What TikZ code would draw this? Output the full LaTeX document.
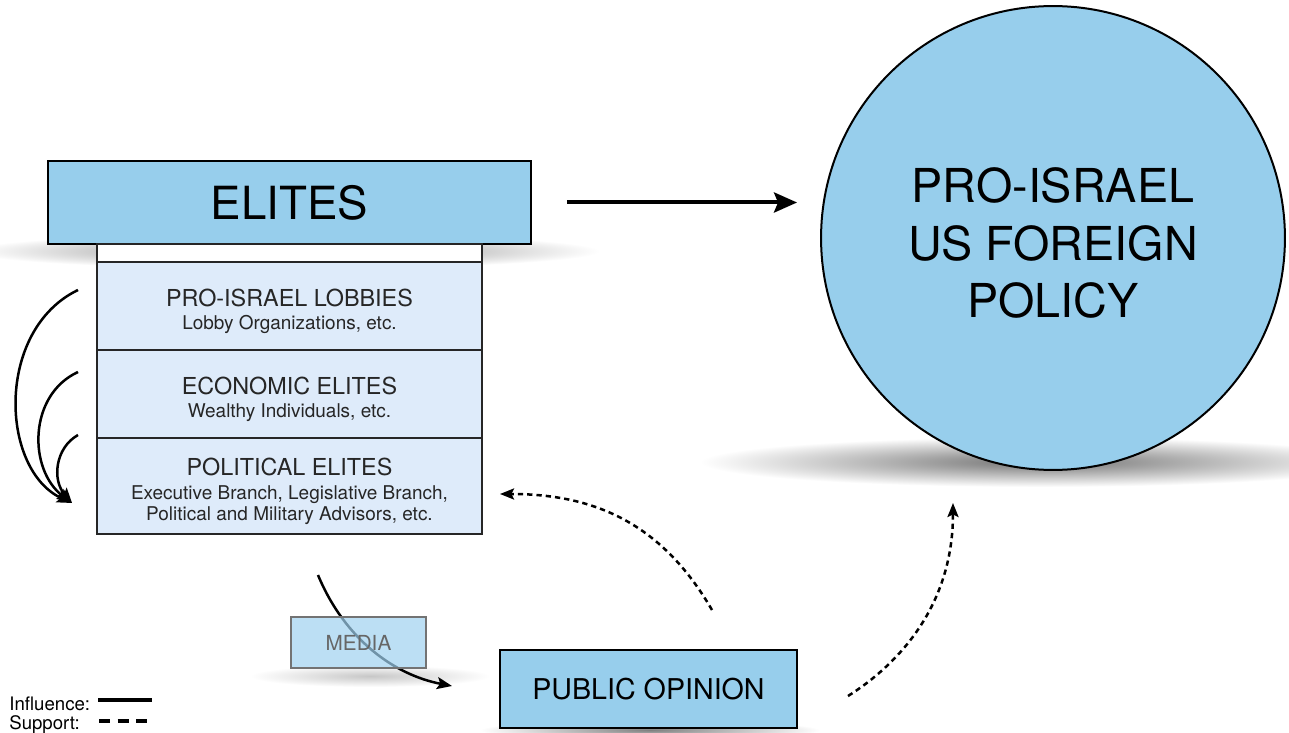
\documentclass[tikz,border=0pt]{standalone}
\usepackage{fontspec}
\setmainfont{TeX Gyre Heros}
\usetikzlibrary{arrows.meta,calc}

\definecolor{eliteblue}{RGB}{151,206,236}
\definecolor{layerblue}{RGB}{222,235,250}
\definecolor{mediablue}{RGB}{160,210,240}

\newcommand{\layertitle}{\fontsize{13.3}{16}\selectfont}
\newcommand{\layersub}{\fontsize{10.8}{12.4}\selectfont}

\tikzset{
	bluebox/.style={draw=black, line width=0.4mm, fill=eliteblue, inner sep=0pt},
	layerbox/.style={draw=black!85, line width=0.4mm, fill=layerblue, minimum width=7.7cm, inner sep=0pt},
	layertext/.style={align=center, text=black!85, inner sep=0pt},
	influence/.style={line width=0.5mm, -{Stealth[length=3mm,width=2.4mm,inset=0.6mm]}},
	support/.style={line width=0.5mm, dash pattern=on 3pt off 2.3pt, -{Stealth[length=2.8mm,width=2.2mm,inset=0.5mm]}},
	haze/.style={inner color=black!50, outer color=white}
}

\begin{document}
\begin{tikzpicture}[x=0.02cm, y=-0.02cm]
		%%%%% START %%%%%
		
		\fill[white] (0,0) rectangle (1289,733);
		\useasboundingbox (0,0) rectangle (1289,733);
		
		% soft shadows
		\shade[haze] (285,251) ellipse [x radius=6.3cm, y radius=0.36cm];
		\shade[haze, inner color=black!55] (1040,462) ellipse [x radius=6.8cm, y radius=0.5cm];
		\shade[haze] (650,730) ellipse [x radius=3.4cm, y radius=0.2cm];
		\shade[haze, inner color=black!22] (370,676) ellipse [x radius=2.4cm, y radius=0.22cm];
		
		% the elite stack
		\node[bluebox, minimum width=9.66cm, minimum height=1.66cm, font=\fontsize{26}{31}\selectfont] (elites) at (289.5,202.5) {ELITES};
		\node[layerbox, fill=white, minimum height=0.36cm] (stem) at (289.5,253) {};
		\node[layerbox, minimum height=1.76cm] (lobbies) at (289.5,306) {};
		\node[layerbox, minimum height=1.76cm] (economic) at (289.5,394) {};
		\node[layerbox, minimum height=1.92cm] (political) at (289.5,486) {};
		
		\node[layertext] (lobbiestext) at ([yshift=-0.1cm]lobbies.center) {\layertitle PRO-ISRAEL LOBBIES\\[1pt]\layersub Lobby Organizations, etc.};
		\node[layertext] (economictext) at ([yshift=-0.1cm]economic.center) {\layertitle ECONOMIC ELITES\\[1pt]\layersub Wealthy Individuals, etc.};
		\node[layertext] (politicaltext) at ([yshift=-0.11cm]political.center) {\layertitle POLITICAL ELITES\\[1.5pt]\layersub Executive Branch, Legislative Branch,\\\layersub Political and Military Advisors, etc.};
		
		\node[bluebox, circle, minimum size=9.28cm] (policy) at (1053,238) {};
		\node[layertext, text=black, font=\fontsize{26.6}{32.6}\selectfont] (policytext) at ([yshift=-0.1cm]policy.center) {PRO-ISRAEL\\US FOREIGN\\POLICY};
		\node[bluebox, minimum width=5.94cm, minimum height=1.56cm, font=\fontsize{16.3}{20}\selectfont] (public) at (648.5,689) {PUBLIC OPINION};
		
		% free ends of the curved arrows
		\coordinate (lobbyout) at (78,290);
		\coordinate (econout) at (78,372);
		\coordinate (polout) at (78,435);
		\coordinate (polin) at (72,503);
		\coordinate (mediain) at (318,575);
		\coordinate (mediaout) at (452,686);
		\coordinate (opinionup) at (712,610);
		\coordinate (politicalin) at (500,494);
		\coordinate (opinionright) at (848,696);
		\coordinate (policyin) at (953,503);
		
		\draw[influence, line width=0.8mm, -{Stealth[length=4.6mm,width=4mm,inset=0.8mm]}, shorten <=0.7cm, shorten >=0.46cm] (elites.east) -- (elites.east -| policy.west);
		
		\draw[influence] (lobbyout) .. controls (-5,330) and (0,470) .. (polin);
		\draw[influence] (econout) .. controls (28,395) and (28,470) .. (polin);
		\draw[influence] (polout) .. controls (55,448) and (52,480) .. (polin);
		
		\draw[influence] (mediain) .. controls (345,640) and (395,675) .. (mediaout);
		\node[draw=black!55, line width=0.4mm, fill=mediablue, fill opacity=0.7, text opacity=1, text=black!60, minimum width=2.7cm, minimum height=1.02cm, font=\fontsize{11.8}{14}\selectfont] (media) at (358.5,642.5) {MEDIA};
		
		\draw[support] (opinionup) .. controls (660,520) and (590,494) .. (politicalin);
		\draw[support] (opinionright) .. controls (905,660) and (953,600) .. (policyin);
		
		% key
		\node[anchor=west, inner sep=0pt, font=\fontsize{10.6}{12}\selectfont] (influencekey) at (9,704) {Influence:};
		\node[anchor=west, inner sep=0pt, font=\fontsize{10.6}{12}\selectfont] (supportkey) at (9,725) {Support:};
		\draw[line width=0.8mm] (98,700) -- (152,700);
		\draw[line width=0.8mm, dash pattern=on 6.2pt off 4.4pt] (99,721) -- (152,721);
		
		%%%%% END %%%%%
\end{tikzpicture}
\end{document}
